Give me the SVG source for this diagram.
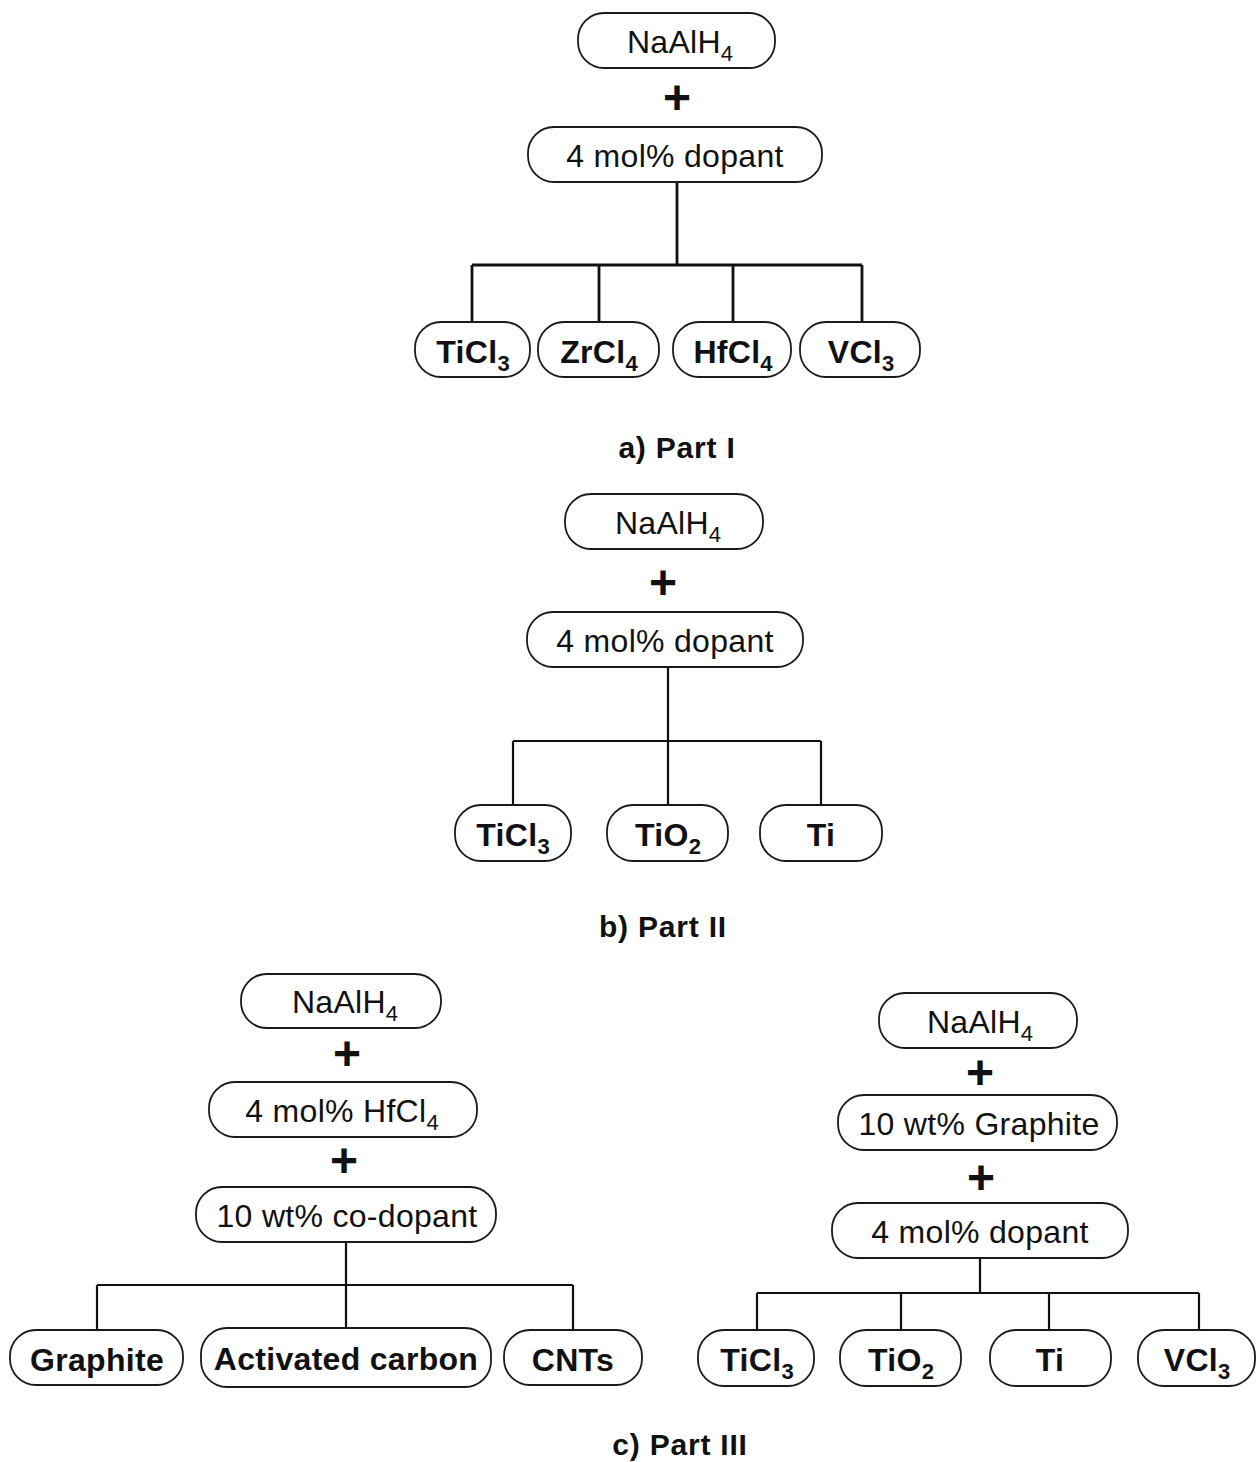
<svg xmlns="http://www.w3.org/2000/svg" width="1257" height="1462" viewBox="0 0 1257 1462">
<style>
.pill{fill:#fff;stroke:#1a1a1a;stroke-width:1.8}
.t{font-family:"Liberation Sans",Arial,sans-serif;font-size:32px;fill:#111;text-anchor:middle;letter-spacing:0.3px}
.b{font-weight:bold}
.sub{font-size:22px;letter-spacing:0}
.plus{font-family:"Liberation Sans",Arial,sans-serif;font-size:48px;font-weight:bold;fill:#111;text-anchor:middle}
.cap{font-family:"Liberation Sans",Arial,sans-serif;font-size:30px;font-weight:bold;fill:#111;text-anchor:middle;letter-spacing:0.8px}
.ln{fill:none;stroke:#111;stroke-width:2.2}
.lnA{fill:none;stroke:#111;stroke-width:2.8}
</style>
<rect width="1257" height="1462" fill="#fff"/>
<g id="connectors">
<path class="lnA" d="M677 182V265M472 265H862M472 265V322M599 265V322M733 265V322M862 265V322"/>
<path class="ln" d="M668 667V805M513 741H821M513 741V805M821 741V805"/>
<path class="ln" d="M346 1242V1329M97 1285H573M97 1285V1330M573 1285V1330"/>
<path class="ln" d="M980 1258V1293M757 1293H1199M757 1293V1330M901 1293V1330M1049 1293V1330M1199 1293V1330"/>
</g>
<!-- Part I -->
<g id="a_naalh4"><rect class="pill" x="578" y="13" width="197" height="55" rx="26"/><text class="t" x="680" y="53">NaAlH<tspan class="sub" dy="8">4</tspan></text></g>
<text class="plus" x="677" y="114">+</text>
<g id="a_dopant"><rect class="pill" x="528" y="127" width="294" height="55" rx="26"/><text class="t" x="675" y="167">4 mol% dopant</text></g>
<g id="a_ticl3"><rect class="pill" x="415" y="322" width="115" height="55" rx="26"/><text class="t b" x="473" y="363">TiCl<tspan class="sub" dy="8">3</tspan></text></g>
<g id="a_zrcl4"><rect class="pill" x="538" y="322" width="121" height="55" rx="26"/><text class="t b" x="599" y="363">ZrCl<tspan class="sub" dy="8">4</tspan></text></g>
<g id="a_hfcl4"><rect class="pill" x="673" y="322" width="118" height="55" rx="26"/><text class="t b" x="733" y="363">HfCl<tspan class="sub" dy="8">4</tspan></text></g>
<g id="a_vcl3"><rect class="pill" x="800" y="322" width="120" height="55" rx="26"/><text class="t b" x="861" y="363">VCl<tspan class="sub" dy="8">3</tspan></text></g>
<text class="cap" x="677" y="458">a) Part I</text>
<!-- Part II -->
<g id="b_naalh4"><rect class="pill" x="565" y="494" width="198" height="55" rx="26"/><text class="t" x="668" y="534">NaAlH<tspan class="sub" dy="8">4</tspan></text></g>
<text class="plus" x="663" y="599">+</text>
<g id="b_dopant"><rect class="pill" x="527" y="612" width="276" height="55" rx="26"/><text class="t" x="665" y="652">4 mol% dopant</text></g>
<g id="b_ticl3"><rect class="pill" x="455" y="805" width="116" height="56" rx="26"/><text class="t b" x="513" y="846">TiCl<tspan class="sub" dy="8">3</tspan></text></g>
<g id="b_tio2"><rect class="pill" x="607" y="805" width="121" height="56" rx="26"/><text class="t b" x="668" y="846">TiO<tspan class="sub" dy="8">2</tspan></text></g>
<g id="b_ti"><rect class="pill" x="760" y="805" width="122" height="56" rx="26"/><text class="t b" x="821" y="846">Ti</text></g>
<text class="cap" x="663" y="937">b) Part II</text>
<!-- Part III left -->
<g id="cl_naalh4"><rect class="pill" x="241" y="974" width="200" height="54" rx="26"/><text class="t" x="345" y="1013">NaAlH<tspan class="sub" dy="8">4</tspan></text></g>
<text class="plus" x="347" y="1070">+</text>
<g id="cl_hfcl4"><rect class="pill" x="209" y="1082" width="268" height="55" rx="26"/><text class="t" x="342" y="1122">4 mol% HfCl<tspan class="sub" dy="8">4</tspan></text></g>
<text class="plus" x="344" y="1177">+</text>
<g id="cl_codopant"><rect class="pill" x="196" y="1187" width="300" height="55" rx="26"/><text class="t" x="347" y="1227">10 wt% co-dopant</text></g>
<g id="cl_graphite"><rect class="pill" x="10" y="1330" width="173" height="55" rx="26"/><text class="t b" x="97" y="1371">Graphite</text></g>
<g id="cl_activated"><rect class="pill" x="201" y="1328" width="290" height="59" rx="26"/><text class="t b" x="346" y="1370">Activated carbon</text></g>
<g id="cl_cnts"><rect class="pill" x="504" y="1330" width="138" height="55" rx="26"/><text class="t b" x="573" y="1371">CNTs</text></g>
<!-- Part III right -->
<g id="cr_naalh4"><rect class="pill" x="879" y="993" width="198" height="55" rx="26"/><text class="t" x="980" y="1033">NaAlH<tspan class="sub" dy="8">4</tspan></text></g>
<text class="plus" x="980" y="1089">+</text>
<g id="cr_graphite"><rect class="pill" x="838" y="1095" width="279" height="55" rx="26"/><text class="t" x="979" y="1135">10 wt% Graphite</text></g>
<text class="plus" x="981" y="1194">+</text>
<g id="cr_dopant"><rect class="pill" x="832" y="1203" width="296" height="55" rx="26"/><text class="t" x="980" y="1243">4 mol% dopant</text></g>
<g id="cr_ticl3"><rect class="pill" x="698" y="1330" width="116" height="56" rx="26"/><text class="t b" x="757" y="1371">TiCl<tspan class="sub" dy="8">3</tspan></text></g>
<g id="cr_tio2"><rect class="pill" x="840" y="1330" width="121" height="56" rx="26"/><text class="t b" x="901" y="1371">TiO<tspan class="sub" dy="8">2</tspan></text></g>
<g id="cr_ti"><rect class="pill" x="990" y="1330" width="121" height="56" rx="26"/><text class="t b" x="1050" y="1371">Ti</text></g>
<g id="cr_vcl3"><rect class="pill" x="1138" y="1330" width="117" height="56" rx="26"/><text class="t b" x="1197" y="1371">VCl<tspan class="sub" dy="8">3</tspan></text></g>
<text class="cap" x="680" y="1455">c) Part III</text>
</svg>
